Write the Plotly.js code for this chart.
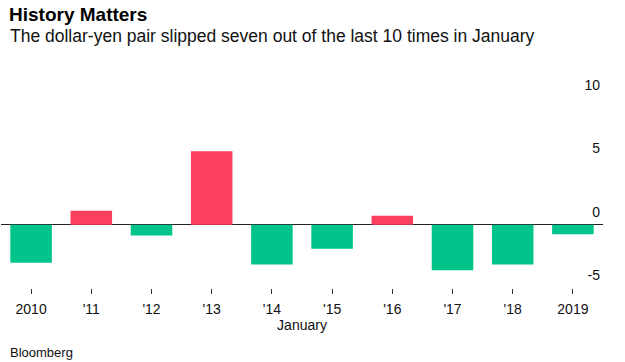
<!DOCTYPE html>
<html>
<head>
<meta charset="utf-8">
<script src="https://cdn.plot.ly/plotly-3.0.1.min.js"></script>
<style>html,body{margin:0;padding:0;background:#fff;}#chart{width:625px;height:362px;}</style>
</head>
<body>
<div id="chart"></div>
<script>
// Data
var categories = ["2010", "'11", "'12", "'13", "'14", "'15", "'16", "'17", "'18", "2019"];
var changes = [-3.0, 1.1, -0.85, 5.8, -3.15, -1.9, 0.7, -3.6, -3.15, -0.75];
var yTickValues = [-5, 0, 5, 10];
var yTickLabels = ["-5", "0", "5", "10"];
var titleText = "History Matters";
var subtitleText = "The dollar-yen pair slipped seven out of the last 10 times in January";
var xTitleText = "January";
var sourceText = "Bloomberg";

var RED = "#ff3f60";
var GREEN = "#00c48a";
var barColors = changes.map(function (v) { return v >= 0 ? RED : GREEN; });

var font = "Liberation Sans, Arial, Helvetica, sans-serif";

var trace = {
  type: "bar",
  x: categories,
  y: changes,
  marker: { color: barColors, line: { width: 0 } },
  width: 0.69,
  hoverinfo: "x+y"
};

var layout = {
  width: 625,
  height: 362,
  margin: { l: 1, r: 22, t: 98, b: 74, pad: 0 },
  paper_bgcolor: "#ffffff",
  plot_bgcolor: "#ffffff",
  showlegend: false,
  font: { family: font, size: 14, color: "#111" },
  title: {
    text: "<b>" + titleText + "</b>",
    font: { family: font, size: 19, color: "#000" },
    x: 9 / 625, xref: "container", xanchor: "left",
    y: 1 - 14 / 362, yref: "container", yanchor: "middle"
  },
  xaxis: {
    type: "category",
    range: [-0.5, 9.5],
    showgrid: false,
    zeroline: false,
    showline: false,
    ticks: "outside",
    ticklen: 5,
    tickwidth: 1,
    tickcolor: "#333",
    ticklabelstandoff: 3,
    tickfont: { family: font, size: 14, color: "#111" },
    title: { text: xTitleText, font: { family: font, size: 14, color: "#111" }, standoff: 4 },
    fixedrange: true
  },
  yaxis: {
    side: "right",
    range: [-5, 10],
    tickmode: "array",
    tickvals: yTickValues,
    ticktext: yTickLabels,
    ticks: "",
    showgrid: false,
    showline: false,
    zeroline: true,
    zerolinecolor: "#222",
    zerolinewidth: 1,
    ticklabelposition: "inside",
    ticklabeloverflow: "allow",
    ticklabelshift: -13,
    tickfont: { family: font, size: 14, color: "#111" },
    fixedrange: true
  },
  annotations: [
    {
      text: subtitleText,
      xref: "paper", yref: "paper",
      x: 7 / 602, y: (288 - 36) / 190,
      xanchor: "left", yanchor: "middle",
      showarrow: false,
      font: { family: font, size: 17.5, color: "#111" }
    },
    {
      text: sourceText,
      xref: "paper", yref: "paper",
      x: 7 / 602, y: (288 - 352) / 190,
      xanchor: "left", yanchor: "middle",
      showarrow: false,
      font: { family: font, size: 13, color: "#111" }
    }
  ]
};

Plotly.newPlot("chart", [trace], layout, { displayModeBar: false, staticPlot: true });
</script>
</body>
</html>
